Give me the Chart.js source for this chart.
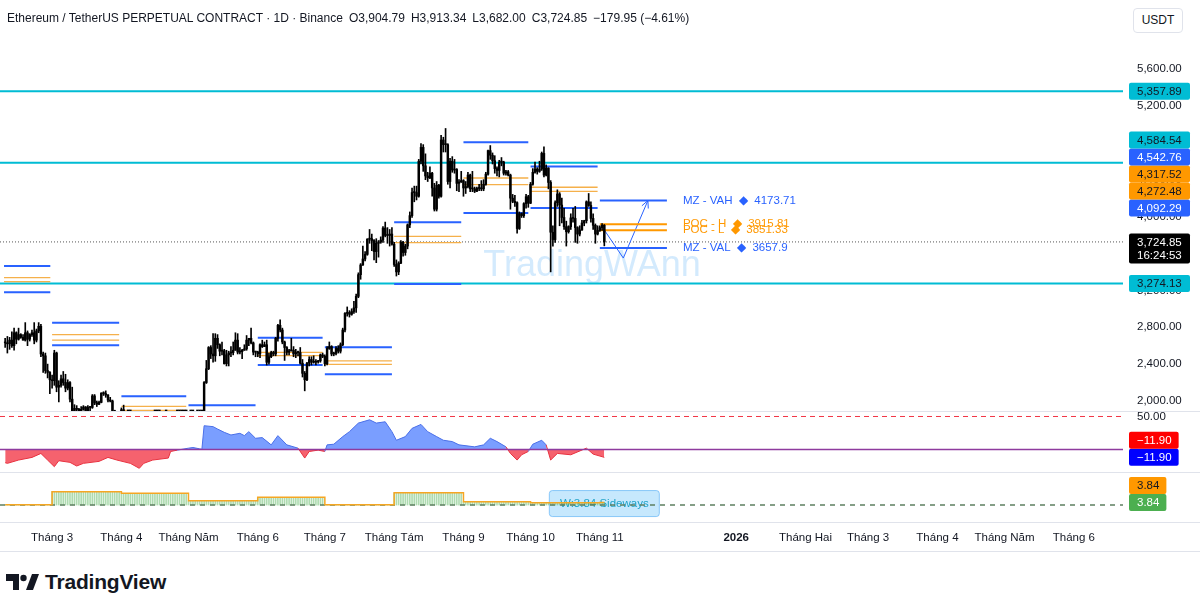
<!DOCTYPE html>
<html>
<head>
<meta charset="utf-8">
<script src="https://cdn.jsdelivr.net/npm/chart.js@4.4.1/dist/chart.umd.min.js"></script>
<style>
  body { margin: 0; width: 1200px; height: 607px; overflow: hidden; position: relative; background: #fff;
         font-family: "Liberation Sans", Arial, sans-serif; color: #131722; }
  .pane { position: absolute; left: 0; }
  .sep { position: absolute; left: 0; width: 1200px; height: 1px; background: #e0e3eb; }
  #header { position: absolute; left: 7px; top: 11px; font-size: 12px; white-space: nowrap; z-index: 3; }
  #header span { margin-left: 6px; }
  #unit { position: absolute; left: 1133px; top: 8px; width: 48px; height: 23px; border: 1px solid #e0e3eb;
          border-radius: 4px; font-size: 12px; line-height: 23px; text-align: center; z-index: 3; background: #fff; }
  #logo { position: absolute; left: 6px; top: 570px; display: flex; align-items: center; }
  #logo b { font-size: 21px; margin-left: 5px; letter-spacing: -0.2px; }
</style>
</head>
<body>
<div id="header"></div>
<div id="unit">USDT</div>
<div class="pane" style="top:0"><canvas id="mainChart" width="1200" height="411"></canvas></div>
<div class="pane" style="top:412px"><canvas id="oscChart" width="1200" height="60"></canvas></div>
<div class="pane" style="top:473px"><canvas id="histChart" width="1200" height="82"></canvas></div>
<div class="sep" style="top:411px"></div>
<div class="sep" style="top:472px"></div>
<div class="sep" style="top:522px"></div>
<div class="sep" style="top:551px"></div>
<div id="logo">
  <svg width="34" height="18" viewBox="0 0 34 18"><path d="M0 1h13v16h-6v-9h-7z" fill="#131722"/><circle cx="17.5" cy="5" r="3.2" fill="#131722"/><path d="M20 17l6-16h7l-6 16z" fill="#131722"/></svg>
  <b>TradingView</b>
</div>

<script>
const FONT = '"Liberation Sans", Arial, sans-serif';
Chart.defaults.font.family = FONT;

// day 0 = 1 Mar 2025, first candle = 8 Feb 2025
const firstDay = -21;

// daily candles [open, high, low, close]
const candlesFeb = [
  [2630,2680,2580,2630],[2630,2700,2520,2620],[2620,2690,2560,2660],[2660,2750,2580,2600],
  [2600,2790,2550,2740],[2740,2750,2620,2670],[2670,2790,2660,2720],[2720,2730,2680,2690],
  [2690,2720,2660,2660],[2660,2850,2650,2740],[2740,2760,2600,2670],[2670,2730,2650,2720],
  [2720,2770,2700,2740],[2740,2850,2620,2660],[2660,2780,2640,2760],[2760,2850,2740,2810],
  [2810,2830,2480,2510],[2510,2530,2310,2490],[2490,2520,2300,2330],[2330,2400,2250,2310],
  [2310,2320,2080,2230]
];
const candlesMar = [
  [2230,2280,2140,2220],[2220,2550,2170,2520],[2520,2530,2100,2150],[2150,2220,1990,2170],
  [2170,2280,2150,2240],[2240,2320,2170,2200],[2200,2290,2100,2140],[2140,2230,2120,2200],
  [2200,2210,1990,2020],[2020,2150,1810,1860],[1860,1960,1760,1920],[1920,1950,1830,1910],
  [1910,1920,1820,1860],[1860,1940,1860,1910],[1910,1950,1900,1935],[1935,1940,1870,1890],
  [1890,1950,1880,1930],[1930,1940,1880,1930],[1930,2070,1920,2055],[2055,2070,1960,1980],
  [1980,2000,1940,1965],[1965,2000,1960,1985],[1985,2090,1980,2085],[2085,2100,2060,2080],
  [2080,2110,2040,2065],[2065,2070,1990,2010],[2010,2040,1990,2000],[2000,2010,1870,1895],
  [1895,1900,1810,1830],[1830,1840,1780,1800],[1800,1860,1780,1820]
];
const candlesApr = [
  [1820,1925,1810,1905],[1905,1955,1780,1795],[1795,1830,1760,1815],[1815,1830,1750,1815],
  [1815,1820,1780,1805],[1805,1810,1540,1580],[1580,1640,1410,1550],[1550,1620,1450,1470],
  [1470,1690,1390,1670],[1670,1670,1480,1520],[1520,1590,1510,1570],[1570,1660,1550,1640],
  [1640,1650,1570,1590],[1590,1690,1580,1620],[1620,1650,1580,1590],[1590,1610,1540,1580],
  [1580,1600,1560,1580],[1580,1600,1570,1590],[1590,1640,1580,1610],[1610,1620,1570,1580],
  [1580,1660,1570,1590],[1590,1790,1580,1760],[1760,1830,1750,1790],[1790,1800,1740,1770],
  [1770,1820,1760,1790],[1790,1810,1780,1790],[1790,1810,1770,1790],[1790,1810,1770,1800],
  [1800,1830,1780,1800],[1800,1820,1760,1795]
];
const candlesMay = [
  [1795,1850,1790,1840],[1840,1870,1830,1840],[1840,1850,1830,1835],[1835,1840,1800,1810],
  [1810,1830,1790,1815],[1815,1820,1770,1810],[1810,1830,1780,1810],[1810,2210,1800,2200],
  [2200,2440,2190,2350],[2350,2590,2340,2580],[2580,2600,2460,2510],[2510,2730,2420,2490],
  [2490,2730,2430,2680],[2680,2720,2570,2610],[2610,2620,2490,2540],[2540,2640,2500,2545],
  [2545,2560,2400,2405],[2405,2550,2380,2500],[2500,2540,2380,2520],[2520,2590,2480,2525],
  [2525,2640,2500,2550],[2550,2740,2550,2660],[2660,2730,2510,2530],[2530,2580,2510,2535],
  [2535,2560,2460,2550],[2550,2610,2550,2565],[2565,2710,2550,2660],[2660,2680,2600,2680],
  [2680,2790,2620,2630],[2630,2640,2500,2530],[2530,2540,2480,2530]
];
const candlesJun = [
  [2530,2540,2480,2510],[2510,2620,2470,2610],[2610,2660,2580,2590],[2590,2640,2590,2610],
  [2610,2660,2390,2420],[2420,2520,2400,2480],[2480,2540,2470,2525],[2525,2540,2490,2510],
  [2510,2690,2490,2680],[2680,2830,2650,2820],[2820,2880,2750,2770],[2770,2790,2620,2640],
  [2640,2650,2440,2580],[2580,2590,2500,2530],[2530,2560,2500,2545],[2545,2680,2540,2550],
  [2550,2590,2480,2510],[2510,2560,2470,2525],[2525,2540,2490,2525],[2525,2580,2400,2410],
  [2410,2450,2260,2300],[2300,2320,2110,2230],[2230,2420,2220,2410],[2410,2480,2380,2450],
  [2450,2480,2390,2420],[2420,2490,2410,2420],[2420,2450,2390,2425],[2425,2440,2410,2435],
  [2435,2510,2420,2500],[2500,2520,2470,2485]
];
const candlesJul = [
  [2485,2500,2380,2405],[2405,2590,2390,2570],[2570,2640,2560,2590],[2590,2600,2490,2510],
  [2510,2530,2490,2515],[2515,2590,2500,2570],[2570,2600,2520,2540],[2540,2630,2520,2610],
  [2610,2790,2600,2770],[2770,2960,2750,2950],[2950,3020,2920,2960],[2960,2980,2910,2940],
  [2940,3000,2930,2970],[2970,3080,2950,3010],[3010,3160,2960,3135],[3135,3390,3120,3370],
  [3370,3490,3320,3475],[3475,3680,3470,3540],[3540,3620,3520,3590],[3590,3760,3580,3755],
  [3755,3860,3710,3760],[3760,3810,3630,3740],[3740,3750,3530,3620],[3620,3760,3500,3710],
  [3710,3740,3560,3725],[3725,3780,3710,3745],[3745,3890,3720,3875],[3875,3940,3780,3795],
  [3795,3880,3710,3795],[3795,3860,3680,3810],[3810,3880,3690,3700]
];
const candlesAug = [
  [3700,3720,3460,3480],[3480,3530,3355,3400],[3400,3510,3370,3495],[3495,3740,3490,3720],
  [3720,3730,3570,3610],[3610,3700,3580,3680],[3680,3920,3650,3910],[3910,4050,3880,4010],
  [4010,4310,3990,4260],[4260,4330,4160,4260],[4260,4330,4180,4220],[4220,4620,4210,4600],
  [4600,4790,4570,4750],[4750,4780,4490,4550],[4550,4680,4400,4440],[4440,4480,4380,4420],
  [4420,4540,4410,4470],[4470,4480,4220,4310],[4310,4360,4060,4080],[4080,4380,4060,4340],
  [4340,4350,4200,4220],[4220,4880,4210,4830],[4830,4860,4700,4780],[4780,4955,4700,4780],
  [4780,4790,4350,4380],[4380,4630,4310,4600],[4600,4650,4480,4505],[4505,4620,4470,4510],
  [4510,4520,4280,4360],[4360,4400,4270,4375],[4375,4490,4370,4390]
];
const candlesSep = [
  [4390,4400,4220,4310],[4310,4380,4250,4325],[4325,4480,4310,4450],[4450,4460,4270,4300],
  [4300,4490,4270,4300],[4300,4320,4260,4275],[4275,4320,4270,4305],[4305,4350,4280,4310],
  [4310,4390,4280,4300],[4300,4400,4280,4350],[4350,4480,4340,4460],[4460,4720,4450,4715],
  [4715,4770,4620,4665],[4665,4690,4570,4605],[4605,4660,4470,4520],[4520,4540,4440,4500],
  [4500,4610,4430,4590],[4590,4640,4550,4590],[4590,4600,4450,4470],[4470,4500,4450,4485],
  [4485,4500,4440,4450],[4450,4460,4080,4200],[4200,4240,4150,4165],[4165,4230,4110,4150],
  [4150,4160,3820,3870],[3870,4050,3860,4030],[4030,4040,3990,4010],[4010,4150,3990,4140],
  [4140,4240,4090,4215],[4215,4230,4100,4145]
];
const candlesOct = [
  [4145,4370,4140,4350],[4350,4520,4340,4480],[4480,4590,4470,4515],[4515,4530,4460,4490],
  [4490,4600,4480,4515],[4515,4700,4500,4685],[4685,4755,4430,4450],[4450,4560,4440,4525],
  [4525,4530,4300,4370],[4370,4390,3400,3830],[3830,3900,3680,3750],[3750,4170,3720,4150],
  [4150,4290,4110,4245],[4245,4260,3900,4125],[4125,4200,3930,3990],[3990,4090,3860,3890],
  [3890,3950,3680,3835],[3835,3900,3820,3890],[3890,4030,3860,3985],[3985,4090,3940,3980],
  [3980,4110,3720,3880],[3880,3890,3710,3810],[3810,3900,3790,3855],[3855,3960,3850,3930],
  [3930,3960,3900,3955],[3955,4170,3930,4160],[4160,4250,4110,4120],[4120,4160,3940,3980],
  [3980,4030,3860,3905],[3905,3920,3710,3810],[3810,3900,3800,3850]
];
const candlesNov = [
  [3850,3900,3840,3880],[3880,3925,3850,3904.80],[3904.79,3913.34,3682.00,3724.85]
];
const candles = [].concat(candlesFeb, candlesMar, candlesApr, candlesMay, candlesJun,
  candlesJul, candlesAug, candlesSep, candlesOct, candlesNov);

// full-width levels
const levelPrices = [5357.89, 4584.54, 3274.13];

// monthly value-area segments (VAH, POC high/low, VAL)
const segStart = [-21.5, 0, 31, 61, 92, 122, 153, 184, 214, 245];
const segEnd   = [-0.8, 30, 60, 91, 121, 152, 183, 213, 244, 275];
const segVAH   = [3464, 2849, 2051, 1953, 2687, 2583, 3938, 4805, 4542.76, 4173.71];
const segPOCH  = [3337, 2719, 1942, 1850, 2528, 2434, 3786, 4418, 4317.52, 3915.81];
const segPOCL  = [3294, 2661, 1898, 1830, 2491, 2398, 3717, 4346, 4272.48, 3851.33];
const segVAL   = [3179, 2604, 1780, 1600, 2390, 2289, 3269, 4038, 4092.29, 3657.9];

// projection arrow
const arrowDays   = [247, 255.5, 266.5];
const arrowPrices = [3854, 3550, 4173.71];

// axes
const priceTicks = [2000, 2400, 2800, 3200, 3600, 4000, 4400, 4800, 5200, 5600];
const monthTickDays = [0, 31, 61, 92, 122, 153, 184, 214, 245, 306, 337, 365, 396, 426, 457];
const monthTickLabels = ['Tháng 3', 'Tháng 4', 'Tháng Năm', 'Tháng 6', 'Tháng 7', 'Tháng Tám',
  'Tháng 9', 'Tháng 10', 'Tháng 11', '2026', 'Tháng Hai', 'Tháng 3', 'Tháng 4', 'Tháng Năm', 'Tháng 6'];
const countdown = '16:24:53';

// oscillator pane
const oscDays = [-21, -20, -15, -9, -5, -2, 1, 3, 8, 11, 14, 21, 25, 29, 35, 39, 41, 45, 52, 53, 56,
  61, 63, 66, 67, 68, 72, 74, 77, 80, 84, 86, 88, 91, 94, 98, 101, 105, 110, 113, 115, 119, 122,
  123, 126, 130, 133, 137, 142, 145, 149, 152, 154, 158, 161, 165, 168, 172, 175, 179, 182, 189,
  193, 196, 199, 203, 205, 208, 210, 213, 215, 219, 221, 223, 226, 232, 239, 242, 247];
const oscValues = [-20, -21, -16, -12, -6, -16, -26, -17, -19.5, -25, -21, -18, -12, -16, -21, -28.5,
  -21, -16, -13, -3, -1, 2, 3, 1, 0.3, 36, 34.6, 31, 26, 22, 24.5, 21, 27, 17, 18, 7, 21, 7, 2,
  -13, -3, -1, -3, 7, 8, 19.5, 27, 40, 45, 40, 42, 27, 14, 19.5, 32, 38, 27, 19.5, 14, 12, 7, 4,
  7, 17, 12, 4, -6, -16, -8, -3, 8, 14, 7, -16, -6, -8, 2, -7, -11.9];
const oscLevel = 50;

// monthly trend-strength histogram
const histStart  = [-21, 0, 31, 61, 92, 122, 153, 184, 214, 245];
const histValues = [0.4, 20.5, 18, 6.6, 11.8, 0.4, 18.9, 5.1, 3.5, 3.84];
const histState = 'Sideways';

// ---------------------------------------------------------------
const X_MIN = -23.3, X_MAX = 479;
const lastIdx = candles.length - 1;
const lastDay = firstDay + lastIdx;
const last = candles[lastIdx];
const prevClose = candles[lastIdx - 1][3];

const fmt = v => (v < 0 ? '\u2212' : '') + Math.abs(v).toLocaleString('en-US', {minimumFractionDigits: 2, maximumFractionDigits: 2});

// header
const chg = last[3] - prevClose;
document.getElementById('header').innerHTML =
  'Ethereum / TetherUS PERPETUAL CONTRACT · 1D · Binance' +
  '<span>O' + fmt(last[0]) + '</span><span>H' + fmt(last[1]) + '</span><span>L' + fmt(last[2]) +
  '</span><span>C' + fmt(last[3]) + '</span><span>' + fmt(chg) + ' (' + fmt(chg / prevClose * 100) + '%)</span>';

// no automatic padding around the plot area
function noPad(s) {
  s.paddingTop = 0; s.paddingBottom = 0; s.paddingLeft = 0; s.paddingRight = 0;
}

function xAxis(show) {
  return {
    type: 'linear', min: X_MIN, max: X_MAX, offset: false, display: show,
    grid: {display: false, drawTicks: false}, border: {display: false},
    afterBuildTicks: s => { s.ticks = monthTickDays.map(v => ({value: v})); },
    ticks: {
      autoSkip: false, maxRotation: 0, padding: 9, color: '#131722',
      callback: (v, i) => monthTickLabels[i],
      font: c => ({family: FONT, size: 11.5, weight: monthTickLabels[c.index] === '2026' ? 'bold' : 'normal'})
    },
    afterFit: s => { s.height = show ? 33 : 0; noPad(s); }
  };
}

function yAxis(min, max, ticks) {
  return {
    position: 'right', min, max,
    grid: {display: false, drawTicks: false}, border: {display: false},
    afterBuildTicks: s => { s.ticks = ticks.map(v => ({value: v})); },
    ticks: {display: ticks.length > 0, padding: 14, color: '#131722', font: {size: 11.5}, callback: v => fmt(v)},
    afterFit: s => { s.width = 77; noPad(s); }
  };
}

function drawAxisLabels(chart, items, fixedW) {
  const {ctx, chartArea} = chart;
  const ys = chart.scales.y;
  ctx.save();
  ctx.font = '11.5px ' + FONT;
  ctx.textBaseline = 'middle';
  const list = items.map(it => Object.assign({}, it, {cy: ys.getPixelForValue(it.value)}));
  list.sort((a, b) => a.value - b.value);
  let limit = Infinity;
  for (const it of list) {
    const extra = it.sub ? 13 : 0;
    it.cy = Math.min(it.cy, limit - 8.5 - extra);
    limit = it.cy - 8.5;
    const text = fmt(it.value);
    const w = fixedW || ctx.measureText(text).width + 15;
    ctx.fillStyle = it.bg;
    ctx.beginPath();
    ctx.roundRect(chartArea.right + 6, it.cy - 8.5, w, 17 + extra, 2);
    ctx.fill();
    ctx.fillStyle = it.fg;
    ctx.fillText(text, chartArea.right + 14, it.cy + 0.5);
    if (it.sub) ctx.fillText(it.sub, chartArea.right + 14, it.cy + 13.5);
  }
  ctx.restore();
}

function segLine(vals, from, to) {
  const out = [];
  for (let i = from; i < to; i++) {
    out.push({x: segStart[i], y: vals[i]}, {x: segEnd[i], y: vals[i]}, {x: segEnd[i], y: null});
  }
  return out;
}

const lineDs = (data, color, width, extra) => Object.assign({
  type: 'line', data, borderColor: color, borderWidth: width, pointRadius: 0,
  tension: 0, spanGaps: false, fill: false, order: 2
}, extra || {});

const baseOptions = (x, y) => ({
  responsive: false, animation: false, events: [],
  layout: {padding: 0, autoPadding: false},
  plugins: {legend: {display: false}, tooltip: {enabled: false}, title: {display: false}},
  scales: {x, y}
});

const nSeg = segStart.length;
const cur = nSeg - 1;

// ---------------- main pane ----------------
const mainPlugin = {
  id: 'mainDecor',
  beforeDatasetsDraw(chart) {
    const {ctx} = chart;
    ctx.save();
    ctx.font = '36px ' + FONT;
    ctx.fillStyle = 'rgba(33,150,243,0.2)';
    ctx.textAlign = 'center';
    ctx.textBaseline = 'middle';
    ctx.fillText('TradingWAnn', 592, 266);
    ctx.restore();
  },
  afterDatasetsDraw(chart) {
    const {ctx, scales: {x, y}} = chart;
    ctx.save();
    const n = arrowDays.length;
    const x1 = x.getPixelForValue(arrowDays[n - 1]), y1 = y.getPixelForValue(arrowPrices[n - 1]);
    const x0 = x.getPixelForValue(arrowDays[n - 2]), y0 = y.getPixelForValue(arrowPrices[n - 2]);
    const a = Math.atan2(y1 - y0, x1 - x0);
    ctx.strokeStyle = '#2962ff';
    ctx.lineWidth = 1;
    ctx.beginPath();
    ctx.moveTo(x1 - 8 * Math.cos(a - 0.45), y1 - 8 * Math.sin(a - 0.45));
    ctx.lineTo(x1, y1);
    ctx.lineTo(x1 - 8 * Math.cos(a + 0.45), y1 - 8 * Math.sin(a + 0.45));
    ctx.stroke();
    const tx = x.getPixelForValue(segEnd[cur]) + 16;
    ctx.font = '11.5px ' + FONT;
    ctx.textBaseline = 'middle';
    const notes = [
      ['MZ - VAH', segVAH[cur], '#2962ff'], ['POC - H', segPOCH[cur], '#ff9800'],
      ['POC - L', segPOCL[cur], '#ff9800'], ['MZ - VAL', segVAL[cur], '#2962ff']
    ];
    notes.forEach(([name, v, c]) => {
      ctx.fillStyle = c;
      ctx.fillText(name + '  \u25C6  ' + v, tx, y.getPixelForValue(v));
    });
    ctx.restore();
  },
  afterDraw(chart) {
    const p = cur - 1;
    drawAxisLabels(chart, [
      {value: levelPrices[0], bg: '#00bcd4', fg: '#131722'},
      {value: levelPrices[1], bg: '#00bcd4', fg: '#131722'},
      {value: segVAH[p], bg: '#2962ff', fg: '#ffffff'},
      {value: segPOCH[p], bg: '#ff9800', fg: '#131722'},
      {value: segPOCL[p], bg: '#ff9800', fg: '#131722'},
      {value: segVAL[p], bg: '#2962ff', fg: '#ffffff'},
      {value: last[3], bg: '#000000', fg: '#ffffff', sub: countdown},
      {value: levelPrices[2], bg: '#00bcd4', fg: '#131722'}
    ], 61);
  }
};

const levelData = [];
levelPrices.forEach(v => levelData.push({x: X_MIN, y: v}, {x: X_MAX, y: v}, {x: X_MAX, y: null}));

new Chart(document.getElementById('mainChart'), {
  type: 'bar',
  data: {
    datasets: [
      {
        data: candles.map((c, i) => ({x: firstDay + i, y: [c[0], c[3]]})),
        backgroundColor: '#000', barThickness: 1.8, minBarLength: 1, grouped: false, clip: 0, order: 0
      },
      {
        data: candles.map((c, i) => ({x: firstDay + i, y: [c[2], c[1]]})),
        backgroundColor: '#000', barThickness: 1, grouped: false, clip: 0, order: 0
      },
      lineDs(segLine(segVAH, 0, cur), '#2962ff', 2),
      lineDs(segLine(segVAL, 0, cur), '#2962ff', 2),
      lineDs(segLine(segPOCH, 0, cur), '#f5b04a', 1.3),
      lineDs(segLine(segPOCL, 0, cur), '#f5b04a', 1.3),
      lineDs(segLine(segVAH, cur, nSeg), '#2962ff', 2),
      lineDs(segLine(segVAL, cur, nSeg), '#2962ff', 2),
      lineDs(segLine(segPOCH, cur, nSeg), '#ff9800', 2),
      lineDs(segLine(segPOCL, cur, nSeg), '#ff9800', 2),
      lineDs(levelData, '#00bcd4', 2),
      lineDs(arrowDays.map((d, i) => ({x: d, y: arrowPrices[i]})), '#2962ff', 1),
      lineDs([{x: X_MIN, y: last[3]}, {x: X_MAX, y: last[3]}], '#555', 1, {borderDash: [1, 2], order: 3})
    ]
  },
  options: baseOptions(xAxis(false), yAxis(1891.5, 6348.2, priceTicks)),
  plugins: [mainPlugin]
});

// ---------------- oscillator pane ----------------
new Chart(document.getElementById('oscChart'), {
  type: 'line',
  data: {
    datasets: [
      {
        data: oscDays.map((d, i) => ({x: d, y: oscValues[i]})),
        borderWidth: 1, pointRadius: 0, tension: 0, order: 1,
        segment: {borderColor: c => (c.p0.parsed.y + c.p1.parsed.y) / 2 >= 0 ? '#4a6fe8' : '#e8303e'},
        fill: {target: {value: 0}, above: 'rgba(41,98,255,0.62)', below: 'rgba(242,54,69,0.78)'}
      },
      lineDs([{x: X_MIN, y: 0}, {x: X_MAX, y: 0}], '#8e3b9e', 1.5, {order: 0}),
      lineDs([{x: X_MIN, y: oscLevel}, {x: X_MAX, y: oscLevel}], '#f23645', 1, {borderDash: [5, 4]})
    ]
  },
  options: baseOptions(xAxis(false), yAxis(-34.1, 56.8, [oscLevel])),
  plugins: [{
    id: 'oscLabels',
    afterDraw(chart) {
      const v = oscValues[oscValues.length - 1];
      drawAxisLabels(chart, [
        {value: v, bg: '#0000ff', fg: '#ffffff'},
        {value: v, bg: '#ff0000', fg: '#ffffff'}
      ]);
    }
  }]
});

// ---------------- histogram pane ----------------
const histBars = [];
const histStep = [];
histStart.forEach((s, i) => {
  const e = i + 1 < histStart.length ? histStart[i + 1] : lastDay + 1;
  for (let d = s; d < e; d++) histBars.push({x: d, y: histValues[i]});
  histStep.push({x: s, y: histValues[i]});
});
histStep.push({x: lastDay, y: histValues[histValues.length - 1]});
const histLast = histValues[histValues.length - 1];

new Chart(document.getElementById('histChart'), {
  type: 'bar',
  data: {
    datasets: [
      lineDs(histStep, '#f5a623', 1.5, {stepped: 'before', order: 0}),
      {data: histBars, backgroundColor: 'rgba(76,175,80,0.45)', barThickness: 1, grouped: false, clip: 0, order: 1},
      lineDs([{x: X_MIN, y: 0}, {x: X_MAX, y: 0}], '#5d7f60', 1.5, {borderDash: [5, 5], order: 0})
    ]
  },
  options: baseOptions(xAxis(true), yAxis(-26, 49.2, [])),
  plugins: [{
    id: 'histDecor',
    beforeDatasetsDraw(chart) {
      const {ctx, scales: {x, y}} = chart;
      const cx = x.getPixelForValue(lastDay), cy = y.getPixelForValue(histLast);
      ctx.save();
      ctx.fillStyle = 'rgba(128,203,250,0.45)';
      ctx.strokeStyle = 'rgba(100,181,246,0.7)';
      ctx.beginPath();
      ctx.roundRect(cx - 55, cy - 12, 110, 26, 3);
      ctx.fill();
      ctx.stroke();
      ctx.fillStyle = '#1fa3c9';
      ctx.font = '11.5px ' + FONT;
      ctx.textAlign = 'center';
      ctx.textBaseline = 'middle';
      ctx.fillText('W:' + histLast + ' ' + histState, cx, cy + 1);
      ctx.restore();
    },
    afterDraw(chart) {
      drawAxisLabels(chart, [
        {value: histLast, bg: '#4caf50', fg: '#ffffff'},
        {value: histLast, bg: '#ff9800', fg: '#131722'}
      ]);
    }
  }]
});
</script>
</body>
</html>
